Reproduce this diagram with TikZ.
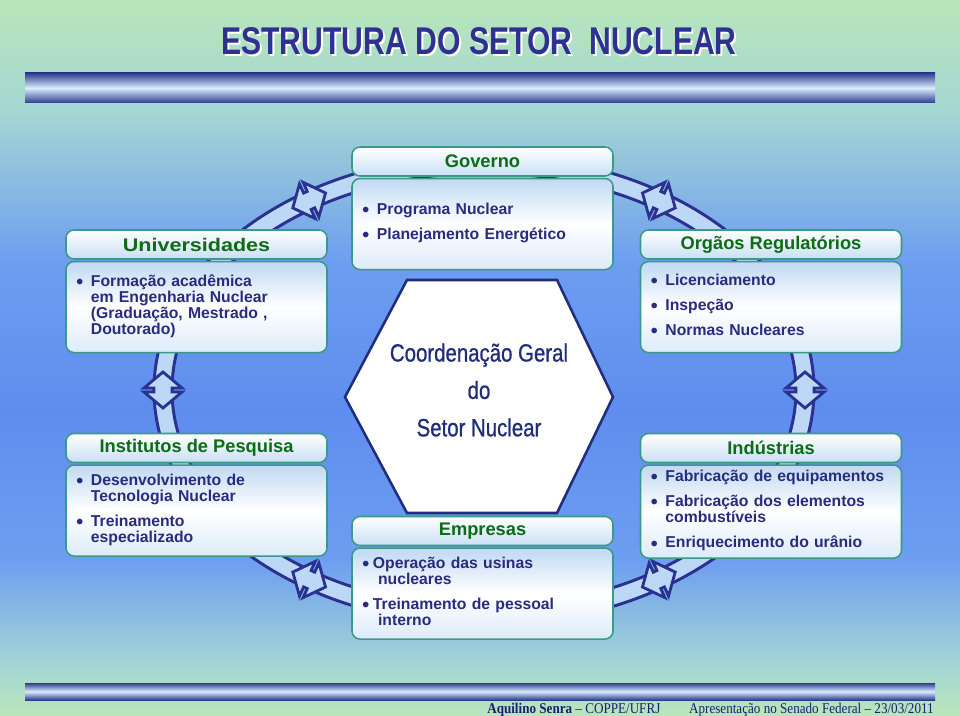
\documentclass[tikz,border=0pt]{standalone}
\usepackage{fontspec}
\setmainfont{Liberation Sans}
\newfontfamily\narrowfont[FakeStretch=0.82, FakeBold=0.8]{Liberation Sans}
\newfontfamily\titlefont[FakeStretch=0.78]{Liberation Sans}
\newfontfamily\footfont[FakeStretch=0.88]{Liberation Serif}
\usetikzlibrary{positioning}

\definecolor{bggreen}{HTML}{B9E6BA}
\definecolor{bgcyan}{HTML}{A4D6D4}
\definecolor{bgblue}{HTML}{6E9EF0}
\definecolor{bgdeep}{HTML}{5E8DEF}
\definecolor{barnavy}{HTML}{2E3A8E}
\definecolor{barlight}{HTML}{D8EDFF}
\definecolor{ringnavy}{HTML}{2B3190}
\definecolor{ringfill}{HTML}{BCD8F6}
\definecolor{boxline}{HTML}{3A9A86}
\definecolor{hdrgreen}{HTML}{0E6B16}
\definecolor{hdrblue}{HTML}{C9DFF5}
\definecolor{bdytop}{HTML}{C0D9F3}
\definecolor{bdybot}{HTML}{DCEBF9}
\definecolor{txtnavy}{HTML}{2A2B7E}
\definecolor{hexnavy}{HTML}{1F2D7B}
\definecolor{titlenavy}{HTML}{2E3192}
\definecolor{footnavy}{HTML}{1A1F6B}

\newcommand\blt{\raisebox{-1.5pt}{\fontsize{14}{14}\selectfont\textbullet}}

\begin{document}
\begin{tikzpicture}[x=0.25mm, y=0.25mm,
  hdr/.style={draw=boxline, line width=1.1pt, rounded corners=2mm,
    minimum width=65.25mm, minimum height=7.25mm, inner sep=0pt,
    top color=white, bottom color=hdrblue, text=hdrgreen,
    font=\fontsize{13}{15}\selectfont\bfseries},
  bdy/.style={draw=boxline, line width=1.1pt, rounded corners=2mm,
    minimum width=65.25mm, minimum height=22.75mm, inner xsep=2.6mm, inner ysep=0pt,
    text width=60.05mm, align=left,
    top color=bdytop, bottom color=bdybot, middle color=white,
    text=txtnavy, font=\fontsize{11.2}{11.6}\selectfont\bfseries},
  ring/.style={draw=ringnavy, line width=2.1pt},
  xchg/.style={draw=ringnavy, line width=2pt, fill=ringfill, line join=miter},
  bar/.style={top color=barnavy, bottom color=barnavy, middle color=barlight},
  foot/.style={font=\footfont\fontsize{10.6}{12}\selectfont, text=footnavy, inner sep=0pt}]
  \useasboundingbox (0,0) rectangle (960,-716);

  % background
  \shade[top color=bggreen, bottom color=bgcyan] (0,0) rectangle (960,-113);
  \shade[top color=bgcyan, bottom color=bgblue] (0,-112) rectangle (960,-261);
  \shade[top color=bgblue, bottom color=bgblue, middle color=bgdeep] (0,-260) rectangle (960,-561);
  \shade[top color=bgblue, bottom color=bgcyan] (0,-560) rectangle (960,-666);
  \shade[top color=bgcyan, bottom color=bggreen] (0,-665) rectangle (960,-716);
  \shade[bar] (25,-73) rectangle (935,-103);
  \shade[bar] (25,-683) rectangle (935,-700);

  % title and footer
  \node[anchor=base, text=white, font=\titlefont\bfseries\fontsize{27.5}{30}\selectfont]
    (titleshadow) at (481,-57) {ESTRUTURA DO SETOR\ \ NUCLEAR};
  \node[anchor=base, text=titlenavy, font=\titlefont\bfseries\fontsize{27.5}{30}\selectfont]
    (title) at (479,-55) {ESTRUTURA DO SETOR\ \ NUCLEAR};
  \node[foot, anchor=base west] (author) at (487,-713) {\textbf{Aquilino Senra} – COPPE/UFRJ};
  \node[foot, anchor=base east] (event) at (934,-713) {Apresentação no Senado Federal – 23/03/2011};

  % ring with exchange marks
  \fill[ringfill, even odd rule] (484,-390) ellipse [x radius=330, y radius=235]
    (484,-390) ellipse [x radius=312, y radius=217];
  \draw[ring] (484,-390) ellipse [x radius=330, y radius=235];
  \draw[ring] (484,-390) ellipse [x radius=312, y radius=217];
  \foreach \t in {0,57,123,180,237,303}{
    \pgfmathsetmacro\ang{atan2(226*cos(\t),-321*sin(\t))-90}
    \draw[xchg, shift={({484+321*cos(\t)},{-390+226*sin(\t)})}, rotate=\ang]
      (0,18) -- (-19,2) -- (-9,2) -- (-9,-2) -- (-19,-2) -- (0,-18)
      -- (19,-2) -- (9,-2) -- (9,2) -- (19,2) -- cycle;
  }

  % central hexagon
  \draw[draw=hexnavy, line width=1.8pt, fill=white, line join=miter]
    (407,-280) -- (557,-280) -- (613,-397) -- (557,-513) -- (407,-513) -- (345,-397) -- cycle;
  \node[align=center, text=hexnavy, font=\narrowfont\fontsize{17.7}{26.6}\selectfont]
    (hub) at (479,-390) {Coordenação Geral\\do\\Setor Nuclear};

  % boxes
  \node[hdr] (gov) at (482.5,-161.5) {Governo};
  \node[bdy, below=0.25mm of gov] (govb) {%
    \begin{tabular}{@{}l@{\hspace{1.9mm}}l@{}}
    \blt & Programa Nuclear\\[6pt]
    \blt & Planejamento Energético
    \end{tabular}};

  \node[hdr] (univ) at (196.5,-244.5) {\scalebox{1.18}[1]{Universidades}\hspace{7mm}};
  \node[bdy, below=0.25mm of univ] (univb) {%
    \begin{tabular}{@{}l@{\hspace{1.9mm}}l@{}}
    \blt & Formação acadêmica\\
     & em Engenharia Nuclear\\
     & (Graduação, Mestrado ,\\
     & Doutorado)
    \end{tabular}};

  \node[hdr] (reg) at (771,-244.5) {Orgãos Regulatórios};
  \node[bdy, below=0.25mm of reg] (regb) {%
    \begin{tabular}{@{}l@{\hspace{1.9mm}}l@{}}
    \blt & Licenciamento\\[6pt]
    \blt & Inspeção\\[6pt]
    \blt & Normas Nucleares
    \end{tabular}};

  \node[hdr] (inst) at (196.5,-448) {Institutos de Pesquisa};
  \node[bdy, below=0.25mm of inst] (instb) {%
    \begin{tabular}{@{}l@{\hspace{1.9mm}}l@{}}
    \blt & Desenvolvimento de\\
     & Tecnologia Nuclear\\[6pt]
    \blt & Treinamento\\
     & especializado
    \end{tabular}};

  \node[hdr] (ind) at (771,-448) {Indústrias};
  \node[bdy, below=0.25mm of ind, minimum height=23.25mm] (indb) {%
    \begin{tabular}{@{}l@{\hspace{1.9mm}}l@{}}
    \blt & Fabricação de equipamentos\\[6pt]
    \blt & Fabricação dos elementos\\
     & combustíveis\\[6pt]
    \blt & Enriquecimento do urânio
    \end{tabular}};

  \node[hdr] (emp) at (482.5,-531) {Empresas};
  \node[bdy, below=0.25mm of emp] (empb) {%
    \begin{tabular}{@{}l@{\hspace{0.9mm}}l@{}}
    \blt & Operação das usinas\\
     & \hspace{1.3mm}nucleares\\[6pt]
    \blt & Treinamento de pessoal\\
     & \hspace{1.3mm}interno
    \end{tabular}};
\end{tikzpicture}
\end{document}
